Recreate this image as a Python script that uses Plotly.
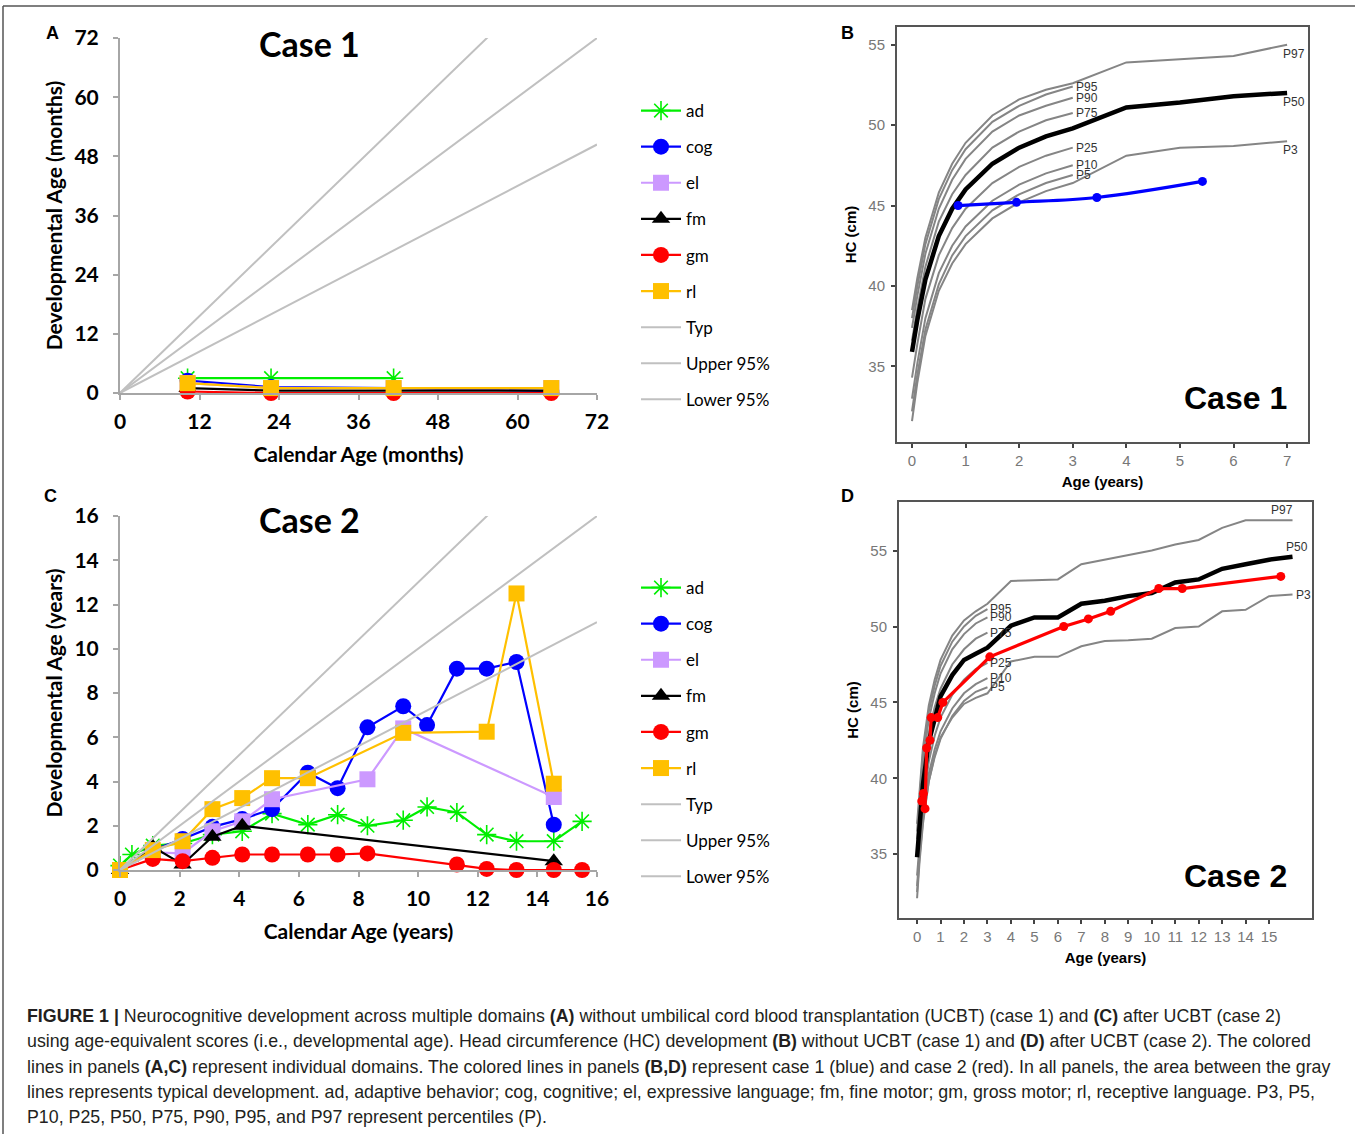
import plotly.graph_objects as go

W, H = 1355, 1134          # reference picture size
OFF = 0                    # body margin is removed by the post script
FW, FH = W - 2 * OFF, H - 2 * OFF

# ---------------- Panel A data (months) ----------------
a_age = [10.2, 22.8, 41.3, 65.1]
a_ad_age = [10.2, 22.8, 41.3]
a_ad = [3, 3, 3]
a_cog = [2.5, 1.2, 1.0, 0.4]
a_el = [2.0, 1.0, 1.0, 1.0]
a_fm = [1.0, 0.5, 0.5, 0.5]
a_gm = [0.3, 0.0, 0.0, 0.0]
a_rl = [2.0, 1.0, 1.0, 1.0]
a_ref_x = [0, 72]
a_typ = [0, 72]
a_upper = [0, 93.6]
a_lower = [0, 50.4]
a_ticks = [0, 12, 24, 36, 48, 60, 72]

# ---------------- Panel C data (years) ----------------
c_ad_age = [0, 0.4, 1.1, 2.1, 3.1, 4.1, 5.1, 6.3, 7.3, 8.3, 9.5, 10.3, 11.3, 12.3, 13.3, 14.55, 15.5]
c_ad = [0.2, 0.7, 1.1, 1.2, 1.6, 1.75, 2.55, 2.05, 2.5, 2.0, 2.25, 2.85, 2.6, 1.6, 1.3, 1.3, 2.2]
c_cog_age = [0, 1.1, 2.1, 3.1, 4.1, 5.1, 6.3, 7.3, 8.3, 9.5, 10.3, 11.3, 12.3, 13.3, 14.55]
c_cog = [0, 0.9, 1.4, 1.95, 2.3, 2.75, 4.4, 3.7, 6.45, 7.4, 6.55, 9.1, 9.1, 9.4, 2.05]
c_el_age = [0, 1.1, 2.1, 3.1, 4.1, 5.1, 8.3, 9.5, 14.55]
c_el = [0, 0.8, 0.75, 1.75, 2.2, 3.2, 4.1, 6.4, 3.3]
c_fm_age = [0, 1.1, 2.1, 3.1, 4.1, 14.55]
c_fm = [0, 1.05, 0.25, 1.5, 2.0, 0.4]
c_gm_age = [0, 1.1, 2.1, 3.1, 4.1, 5.1, 6.3, 7.3, 8.3, 11.3, 12.3, 13.3, 14.55, 15.5]
c_gm = [0, 0.5, 0.4, 0.55, 0.7, 0.7, 0.7, 0.7, 0.75, 0.25, 0.05, 0, 0, 0]
c_rl_age = [0, 1.1, 2.1, 3.1, 4.1, 5.1, 6.3, 9.5, 12.3, 13.3, 14.55]
c_rl = [0, 0.9, 1.3, 2.75, 3.25, 4.15, 4.15, 6.2, 6.25, 12.5, 3.9]
c_ref_x = [0, 16]
c_typ = [0, 16]
c_upper = [0, 20.8]
c_lower = [0, 11.2]
c_ticks = [0, 2, 4, 6, 8, 10, 12, 14, 16]

# ---------------- Panel B data (HC, case 1) ----------------
b_age_short = [0, 0.1, 0.25, 0.5, 0.75, 1, 1.5, 2, 2.5, 3]
b_age_long = [0, 0.1, 0.25, 0.5, 0.75, 1, 1.5, 2, 2.5, 3, 4, 5, 6, 7]
b_p95 = [38.0, 40.0, 42.6, 45.4, 47.2, 48.5, 50.2, 51.2, 51.9, 52.4]
b_p90 = [37.4, 39.4, 42.0, 44.8, 46.6, 47.9, 49.6, 50.6, 51.2, 51.7]
b_p75 = [36.6, 38.6, 41.2, 44.0, 45.7, 46.9, 48.6, 49.6, 50.3, 50.75]
b_p25 = [34.3, 36.4, 39.2, 41.9, 43.6, 44.8, 46.4, 47.4, 48.1, 48.6]
b_p10 = [33.0, 35.2, 38.0, 40.8, 42.5, 43.7, 45.3, 46.3, 47.0, 47.5]
b_p5 = [32.2, 34.5, 37.3, 40.1, 41.9, 43.1, 44.7, 45.7, 46.4, 46.9]
b_p3 = [31.6, 34.0, 36.9, 39.7, 41.4, 42.6, 44.2, 45.2, 45.9, 46.4, 48.1, 48.6, 48.7, 49.0]
b_p50 = [35.9, 37.9, 40.4, 43.1, 44.8, 46.0, 47.6, 48.6, 49.3, 49.8, 51.1, 51.4, 51.8, 52.0]
b_p97 = [38.5, 40.5, 43.0, 45.8, 47.6, 48.9, 50.6, 51.6, 52.2, 52.6, 53.9, 54.1, 54.3, 55.0]
b_case_age = [0.86, 1.95, 3.45, 5.42]
b_case_hc = [45.0, 45.2, 45.5, 46.5]

# ---------------- Panel D data (HC, case 2) ----------------
d_age_short = [0, 0.1, 0.25, 0.5, 0.75, 1, 1.5, 2, 2.5, 3]
d_age_long = [0, 0.1, 0.25, 0.5, 0.75, 1, 1.5, 2, 2.5, 3, 4, 5, 6, 7, 8, 9, 10, 11, 12, 13, 14, 15, 16]
d_p95 = [36.5, 38.8, 41.6, 44.4, 46.1, 47.4, 49.0, 50.0, 50.7, 51.15]
d_p90 = [36.0, 38.3, 41.1, 43.9, 45.6, 46.9, 48.5, 49.5, 50.2, 50.6]
d_p75 = [35.3, 37.5, 40.2, 43.0, 44.7, 45.9, 47.5, 48.5, 49.2, 49.6]
d_p25 = [33.6, 35.8, 38.4, 41.1, 42.8, 44.0, 45.5, 46.5, 47.2, 47.6]
d_p10 = [32.9, 35.1, 37.6, 40.3, 41.9, 43.1, 44.6, 45.6, 46.2, 46.6]
d_p5 = [32.5, 34.7, 37.2, 39.8, 41.4, 42.6, 44.1, 45.1, 45.7, 46.0]
d_p3 = [32.1, 34.4, 37.0, 39.8, 41.5, 42.7, 44.0, 44.9, 45.3, 45.6, 47.7, 48.0, 48.0, 48.7, 49.05,
        49.1, 49.2, 49.9, 50.0, 51.0, 51.1, 52.0, 52.1]
d_p50 = [34.8, 37.0, 39.6, 42.4, 44.0, 45.4, 46.8, 47.8, 48.2, 48.6, 50.05, 50.6, 50.6, 51.5, 51.7,
         52.0, 52.2, 52.9, 53.1, 53.8, 54.1, 54.4, 54.6]
d_p97 = [37.0, 39.2, 42.0, 44.8, 46.5, 47.8, 49.4, 50.4, 51.0, 51.5, 53.0, 53.05, 53.1, 54.1, 54.4,
         54.7, 55.0, 55.4, 55.7, 56.5, 57.0, 57.0, 57.0]
d_case_age = [0.2, 0.27, 0.34, 0.41, 0.55, 0.6, 0.88, 1.1, 3.1, 6.25, 7.3, 8.25, 10.3, 11.3, 15.5]
d_case_hc = [38.5, 39.0, 38.0, 42.0, 42.5, 44.0, 44.0, 45.0, 48.0, 50.0, 50.5, 51.0, 52.5, 52.5, 53.3]

domains = ["ad", "cog", "el", "fm", "gm", "rl"]
dom_color = {"ad": "#00EE00", "cog": "#0000FF", "el": "#CC99FF", "fm": "#000000",
             "gm": "#FF0000", "rl": "#FFC000"}
dom_symbol = {"ad": "asterisk-open", "cog": "circle", "el": "square", "fm": "triangle-up",
              "gm": "circle", "rl": "square"}
GRAY_REF = "#C0C0C0"

fig = go.Figure()


def dx(p):
    return (p - OFF) / FW


def dy(p):
    return 1 - (p - OFF) / FH


def add_dev_panel(xa, ya, legend, series, ref_x, typ, upper, lower):
    for name in domains:
        xs, ys = series[name]
        col = dom_color[name]
        mk = dict(color=col, size=16, symbol=dom_symbol[name])
        if name == "ad":
            mk.update(size=16, line=dict(color=col, width=1.6))
        else:
            mk.update(line=dict(width=0))
        fig.add_trace(go.Scatter(
            x=xs, y=ys, name=name, mode="lines+markers", xaxis=xa, yaxis=ya,
            line=dict(color=col, width=2.2), marker=mk, cliponaxis=False,
            legend=legend, legendgroup=legend + name))
    for nm, yy in (("Typ", typ), ("Upper 95%", upper), ("Lower 95%", lower)):
        fig.add_trace(go.Scatter(
            x=ref_x, y=yy, name=nm, mode="lines", xaxis=xa, yaxis=ya,
            line=dict(color=GRAY_REF, width=2), legend=legend, legendgroup=legend + nm))


add_dev_panel("x", "y", "legend",
              {"ad": (a_ad_age, a_ad), "cog": (a_age, a_cog), "el": (a_age, a_el),
               "fm": (a_age, a_fm), "gm": (a_age, a_gm), "rl": (a_age, a_rl)},
              a_ref_x, a_typ, a_upper, a_lower)
add_dev_panel("x2", "y2", "legend2",
              {"ad": (c_ad_age, c_ad), "cog": (c_cog_age, c_cog), "el": (c_el_age, c_el),
               "fm": (c_fm_age, c_fm), "gm": (c_gm_age, c_gm), "rl": (c_rl_age, c_rl)},
              c_ref_x, c_typ, c_upper, c_lower)

PGRAY = "#858585"
ann = []
PFONT = dict(family="Liberation Sans, Arial", size=12, color="#333")


def add_hc_panel(xa, ya, short_age, long_age, shorts, p3, p50, p97, case_age, case_hc,
                 case_col, spline, long_label_pos):
    for lab, vals in shorts:
        fig.add_trace(go.Scatter(x=short_age, y=vals, mode="lines", xaxis=xa, yaxis=ya,
                                 line=dict(color=PGRAY, width=2), showlegend=False,
                                 hoverinfo="skip"))
        ann.append(dict(x=short_age[-1], y=vals[-1], xref=xa, yref=ya, text=lab,
                        showarrow=False, xanchor="left", yanchor="middle", xshift=1,
                        font=PFONT))
    for lab, vals, w, c in (("P3", p3, 2, PGRAY), ("P97", p97, 2, PGRAY), ("P50", p50, 4.5, "#000")):
        fig.add_trace(go.Scatter(x=long_age, y=vals, mode="lines", xaxis=xa, yaxis=ya,
                                 line=dict(color=c, width=w), showlegend=False,
                                 hoverinfo="skip"))
        xanc, yanc, xs, ys = long_label_pos[lab]
        ann.append(dict(x=long_age[-1], y=vals[-1], xref=xa, yref=ya, text=lab,
                        showarrow=False, xanchor=xanc, yanchor=yanc, xshift=xs, yshift=ys,
                        font=PFONT))
    fig.add_trace(go.Scatter(x=case_age, y=case_hc, mode="lines+markers", xaxis=xa, yaxis=ya,
                             line=dict(color=case_col, width=3.2,
                                       shape="spline" if spline else "linear"),
                             marker=dict(color=case_col, size=9), showlegend=False))


add_hc_panel("x3", "y3", b_age_short, b_age_long,
             [("P95", b_p95), ("P90", b_p90), ("P75", b_p75), ("P25", b_p25),
              ("P10", b_p10), ("P5", b_p5)],
             b_p3, b_p50, b_p97, b_case_age, b_case_hc, "#0000FF", True,
             {"P3": ("left", "top", -6, 0), "P97": ("left", "top", -6, 0),
              "P50": ("left", "top", -6, 0)})
add_hc_panel("x4", "y4", d_age_short, d_age_long,
             [("P95", d_p95), ("P90", d_p90), ("P75", d_p75), ("P25", d_p25),
              ("P10", d_p10), ("P5", d_p5)],
             d_p3, d_p50, d_p97, d_case_age, d_case_hc, "#FF0000", False,
             {"P3": ("left", "middle", 1, 0), "P97": ("right", "bottom", 2, 1),
              "P50": ("center", "bottom", 4, 1)})

LATO = "Lato, Carlito, Calibri, sans-serif"
ARIAL = "Liberation Sans, Arial, sans-serif"


def dev_axis(dom, rng, ticks, title, is_x):
    return dict(domain=dom, range=rng, tickvals=ticks, showline=True, linecolor="#A6A6A6",
                linewidth=2, ticks="outside", ticklen=5, tickwidth=2, tickcolor="#A6A6A6",
                showgrid=False, zeroline=False, automargin=False,
                tickfont=dict(family=LATO, size=21, color="#000", weight="bold"),
                title=dict(text=title, font=dict(family=LATO, size=21, color="#000", weight="bold"),
                           standoff=15 if is_x else 6),
                ticklabelstandoff=4 if is_x else 10, fixedrange=True)


def hc_axis(dom, rng, ticks, title, is_x):
    return dict(domain=dom, range=rng, tickvals=ticks, showline=True, mirror=True,
                linecolor="#555", linewidth=2, ticks="outside", ticklen=4, tickwidth=2,
                tickcolor="#444", showgrid=False, zeroline=False, automargin=False,
                tickfont=dict(family=ARIAL, size=15, color="#777"),
                title=dict(text=title, font=dict(family=ARIAL, size=15, color="#000", weight="bold"),
                           standoff=8 if is_x else 8),
                ticklabelstandoff=0 if is_x else 3, fixedrange=True)


fig.update_layout(
    xaxis=dev_axis([dx(120), dx(597)], [0, 72], a_ticks, "Calendar Age (months)", True) | dict(anchor="y"),
    yaxis=dev_axis([dy(393), dy(38)], [0, 72], a_ticks, "Developmental Age (months)", False) | dict(anchor="x"),
    xaxis2=dev_axis([dx(120), dx(597)], [0, 16], c_ticks, "Calendar Age (years)", True) | dict(anchor="y2"),
    yaxis2=dev_axis([dy(870), dy(516)], [0, 16], c_ticks, "Developmental Age (years)", False) | dict(anchor="x2"),
    xaxis3=hc_axis([dx(897), dx(1308)], [-0.28, 7.39], list(range(0, 8)), "Age (years)", True) | dict(anchor="y3"),
    yaxis3=hc_axis([dy(442), dy(27)], [30.3, 56.1], [35, 40, 45, 50, 55], "HC (cm)", False) | dict(anchor="x3"),
    xaxis4=hc_axis([dx(899), dx(1312)], [-0.77, 16.83], list(range(0, 16)), "Age (years)", True) | dict(anchor="y4"),
    yaxis4=hc_axis([dy(918), dy(502)], [30.8, 58.2], [35, 40, 45, 50, 55], "HC (cm)", False) | dict(anchor="x4"),
)

leg_common = dict(xanchor="left", yanchor="top", bgcolor="rgba(0,0,0,0)",
                  font=dict(family=LATO, size=17, color="#000"), traceorder="grouped",
                  tracegroupgap=11, itemwidth=40, itemclick=False, itemdoubleclick=False)
fig.update_layout(
    legend=dict(x=dx(636), y=dy(93), **leg_common),
    legend2=dict(x=dx(636), y=dy(570), **leg_common),
)

# titles / letters
for txt, x, y, fam, sz in (("Case 1", 309, 43, LATO, 34), ("Case 2", 309, 519, LATO, 34),
                           ("Case 1", 1235, 398, ARIAL, 32), ("Case 2", 1235, 876, ARIAL, 32),
                           ("A", 52, 33, ARIAL, 18), ("B", 847, 33, ARIAL, 18),
                           ("C", 51, 496, ARIAL, 18), ("D", 847, 496, ARIAL, 18)):
    ann.append(dict(x=dx(x), y=dy(y), xref="paper", yref="paper", text="<b>%s</b>" % txt,
                    showarrow=False, xanchor="center", yanchor="middle",
                    font=dict(family=fam, size=sz, color="#000")))

caption = [
    "<b>FIGURE 1 |</b> Neurocognitive development across multiple domains <b>(A)</b> without umbilical cord blood transplantation (UCBT) (case 1) and <b>(C)</b> after UCBT (case 2)",
    "using age-equivalent scores (i.e., developmental age). Head circumference (HC) development <b>(B)</b> without UCBT (case 1) and <b>(D)</b> after UCBT (case 2). The colored",
    "lines in panels <b>(A,C)</b> represent individual domains. The colored lines in panels <b>(B,D)</b> represent case 1 (blue) and case 2 (red). In all panels, the area between the gray",
    "lines represents typical development. ad, adaptive behavior; cog, cognitive; el, expressive language; fm, fine motor; gm, gross motor; rl, receptive language. P3, P5,",
    "P10, P25, P50, P75, P90, P95, and P97 represent percentiles (P).",
]
for i, line in enumerate(caption):
    ann.append(dict(x=dx(25), y=dy(1016 + i * 25.3), xref="paper", yref="paper", text=line,
                    showarrow=False, xanchor="left", yanchor="middle",
                    font=dict(family=ARIAL, size=17.8, color="#231F20")))

fig.update_layout(
    annotations=ann,
    width=FW, height=FH, margin=dict(l=0, r=0, t=0, b=0, autoexpand=False),
    paper_bgcolor="white", plot_bgcolor="white",
    shapes=[
        dict(type="line", xref="paper", yref="paper", x0=dx(3), x1=1, y0=dy(6), y1=dy(6),
             line=dict(color="#555", width=1.5)),
        dict(type="line", xref="paper", yref="paper", x0=dx(3), x1=dx(3), y0=dy(6), y1=0,
             line=dict(color="#555", width=1.5)),
    ],
)

fig.write_html("out.html", config={"displayModeBar": False},
               post_script="document.body.style.margin='0px';document.body.style.overflow='hidden';")
